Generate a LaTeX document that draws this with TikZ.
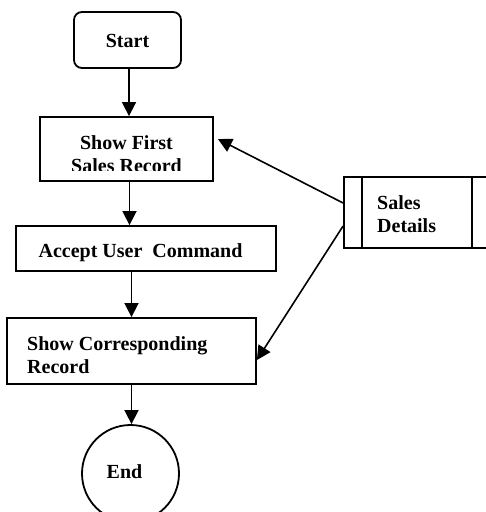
\documentclass[tikz,border=0pt]{standalone}
\usepackage{fontspec}
\setmainfont{Liberation Serif}
\usetikzlibrary{arrows.meta,calc}
\tikzset{
  box/.style={draw, line width=1.8pt, inner sep=0pt, anchor=center},
  lbl/.style={font=\bfseries\fontsize{20}{23}\selectfont, inner sep=0pt, align=left},
  arr/.style={line width=1.6pt, -{Triangle[length=14pt,width=14pt]}},
  link/.style={line width=1.8pt}
}
\begin{document}
\begin{tikzpicture}[x=1pt,y=-1pt]
\clip (0,0) rectangle (486,512);
\fill[white] (0,0) rectangle (486,512);
% Start
\node[box, rounded corners=8pt, minimum width=107pt, minimum height=56pt] (start) at (127.5,40) {};
\node[lbl, anchor=base] (starttxt) at (127.5,47.5) {Start};
% Show First Sales Record
\node[box, minimum width=173pt, minimum height=64pt] (first) at (126.5,149) {};
\begin{scope}
\clip (40,118) rectangle (213,170.5);
\node[lbl, align=center, anchor=base] (firsttxt) at (126.5,172) {Show First\\Sales Record};
\end{scope}
% Accept
\node[box, minimum width=260pt, minimum height=45pt] (accept) at (146,248.5) {};
\node[lbl, anchor=base] (accepttxt) at (140.5,257) {Accept User\ \ Command};
% Show Corresponding Record
\node[box, minimum width=249pt, minimum height=66pt] (corr) at (131.5,351) {};
\node[lbl, anchor=base west] (corrtxt) at (27,373) {Show Corresponding\\Record};
% End
\node[box, circle, minimum size=97pt] (end) at (130.5,473.5) {};
\node[lbl, anchor=base] (endtxt) at (124.5,478) {End};
% Sales Details
\node[box, minimum width=160pt, minimum height=71pt] (sales) at (424,212.5) {};
\draw[link] (362,177) -- (362,248);
\draw[link] (472,177) -- (472,248);
\node[lbl, anchor=base west] (salestxt) at (377,232) {Sales\\Details};
% connectors
\draw[arr] ([xshift=1.5pt]start.south) -- ([xshift=1.5pt]start.south |- first.north);
\draw[arr] ([xshift=3pt]first.south) -- ([xshift=3pt]first.south |- accept.north);
\draw[arr] (accept.south -| corr.north) -- (corr.north);
\draw[arr] (corr.south) -- (corr.south |- end.north);
\draw[arr] ([yshift=9.5pt]sales.west) -- ([xshift=4pt,yshift=10pt]first.east);
\draw[arr] ([yshift=-13.5pt]sales.west) -- ([yshift=-9pt]corr.east);
\end{tikzpicture}
\end{document}
